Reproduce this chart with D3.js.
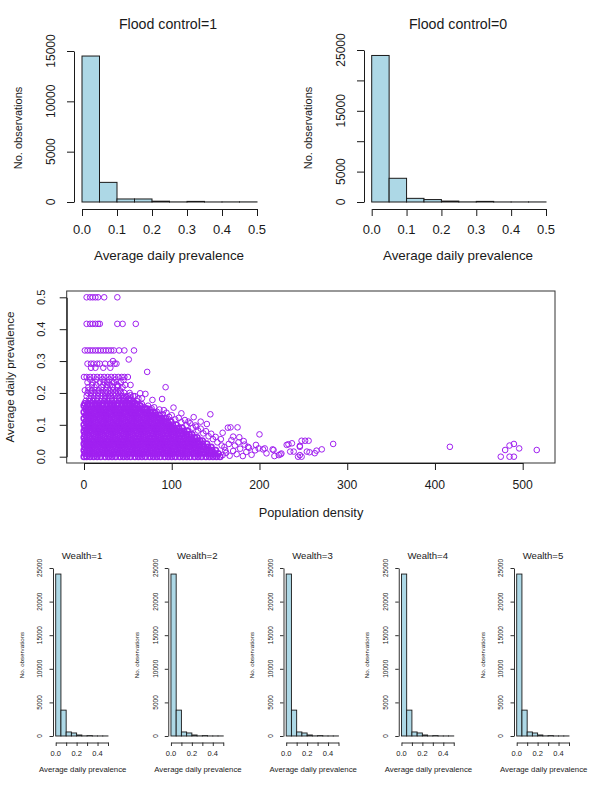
<!DOCTYPE html>
<html><head><meta charset="utf-8">
<script src="https://cdn.jsdelivr.net/npm/d3@7"></script>
<style>
body{margin:0;background:#fff}
svg{display:block}
text{font-family:"Liberation Sans",Arial,Helvetica,sans-serif;fill:#1a1a1a}
</style>
</head><body>
<svg id="c" width="600" height="787"></svg>
<script>
// ---------------- DATA ----------------
const binEdges = [0,0.05,0.1,0.15,0.2,0.25,0.3,0.35,0.4,0.45,0.5];
const prevTicks = [0,0.1,0.2,0.3,0.4,0.5];
const prevTickLabels = ["0.0","0.1","0.2","0.3","0.4","0.5"];
const prevTickLabelsSmall = ["0.0","","0.2","","0.4",""];

const floodTitles = ["Flood control=1","Flood control=0"];
const floodCounts1 = [14500,1950,300,300,80,10,60,5,10,10];
const floodCounts0 = [24100,3900,600,400,150,20,100,10,10,10];
const floodYTicks1 = [0,5000,10000,15000];
const floodYLabels1 = ["0","5000","10000","15000"];
const floodYTicks0 = [0,5000,10000,15000,20000,25000];
const floodYLabels0 = ["0","5000","","15000","","25000"];

const wealthTitles = ["Wealth=1","Wealth=2","Wealth=3","Wealth=4","Wealth=5"];
const wealthCounts = [
  [24100,3850,600,450,150,20,60,10,10,10],
  [24100,3850,600,450,150,20,60,10,10,10],
  [24100,3850,600,450,150,20,60,10,10,10],
  [24100,3850,600,450,150,20,60,10,10,10],
  [24100,3850,600,450,150,20,60,10,10,10]
];
const wealthYTicks = [0,5000,10000,15000,20000,25000];
const wealthYLabels = ["0","5000","10000","15000","20000","25000"];

const densityTicks = [0,100,200,300,400,500];
const xLabelHist = "Average daily prevalence";
const yLabelHist = "No. observations";
const xLabelScatter = "Population density";
const yLabelScatter = "Average daily prevalence";

// scatter: rows of [prevalence, population densities]
const denseRows = [
  [0.000,[0,3,7,11,15,19,24,28,32,36,41,45,49,53,58,62,66,70,75,79,83,87,92,96,100,104,109,113,117,121,126,130,134,139,143,147,151,155]],
  [0.010,[1,5,9,13,17,22,26,30,34,39,43,47,51,56,60,64,68,73,77,81,85,90,94,98,102,107,111,115,119,124,128,132,137,141,145,149,153]],
  [0.020,[0,3,7,11,15,20,24,28,32,37,41,45,49,54,58,62,66,71,75,79,83,88,92,96,100,105,109,113,117,122,126,130,134,139,143,146,150]],
  [0.030,[1,5,9,13,18,22,26,30,35,39,43,47,52,56,60,64,69,73,77,81,86,90,94,98,103,107,111,115,120,124,128,132,137,141,145]],
  [0.040,[0,3,7,11,16,20,24,28,33,37,41,45,50,54,58,62,67,71,75,79,84,88,92,96,101,105,109,113,118,122,126,131,135,140]],
  [0.050,[1,5,9,14,18,22,26,31,35,39,43,48,52,56,60,65,69,73,77,82,86,90,94,99,103,107,111,116,120,124,129,132,135]],
  [0.060,[0,3,7,12,16,20,24,29,33,37,41,46,50,54,58,63,67,71,75,80,84,88,92,97,101,105,109,114,118,122,126,129]],
  [0.070,[1,5,10,14,18,22,27,31,35,39,44,48,52,56,61,65,69,73,78,82,86,90,95,99,103,107,112,116,120,123]],
  [0.080,[0,3,8,12,16,20,25,29,33,37,42,46,50,54,59,63,67,71,76,80,84,88,93,97,101,105,110,114,118]],
  [0.090,[1,6,10,14,18,23,27,31,35,40,44,48,52,57,61,65,69,74,78,82,86,91,95,99,103,108,112]],
  [0.100,[0,4,8,12,16,21,25,29,33,38,42,46,50,55,59,63,67,72,76,80,84,89,93,97,101,105]],
  [0.110,[2,6,10,14,19,23,27,31,36,40,44,48,53,57,61,65,70,74,78,82,87,91,95,99]],
  [0.120,[0,4,8,12,17,21,25,29,34,38,42,46,51,55,59,63,68,72,76,80,85,89,93]],
  [0.130,[2,6,10,15,19,23,27,32,36,40,44,49,53,57,61,66,70,74,78,82,86]],
  [0.140,[0,4,8,13,17,21,25,30,34,38,42,47,51,55,59,64,68,72,76,79]],
  [0.150,[2,6,11,15,19,23,28,32,36,40,45,49,53,57,62,66,70,72]],
  [0.160,[0,4,9,13,17,21,26,30,34,38,43,47,51,55,60,64]],
  [0.1667,[1,5,9,13,17,22,26,30,34,39,43,47,51,55,58]],
  [0.175,[2,7,10,15,19,23,27,32,36,40,44,48,52,56,60]],
  [0.182,[6,11,15,20,24,28,32,36,40,44,47,51,54,62]],
  [0.190,[3,8,12,16,20,24,28,31,35,39,43,46,50,56]],
  [0.200,[4,8,12,16,20,24,27,31,35,39,42,46,52]],
  [0.2083,[1,5,9,13,17,21,25,29,33,37,41]],
  [0.218,[5,12,20,26,33,38,44]],
  [0.225,[9,14,22,26,30,38,47,53]],
  [0.233,[4,10,18,23,27,34,42]],
  [0.242,[7,14,21,29,36]],
  [0.250,[0,3,7,11,15,19,23,27,31,35,39,43,46,50]],
  [0.279,[8,13,22,30]],
  [0.2917,[4,8,11,15,18,24,30,35,37]],
  [0.3333,[1,4,7,10,13,16,19,22,25,28,31,34,40,46,57]],
  [0.4167,[3,7,10,13,16,18,38,44,59]],
  [0.500,[3,7,10,13,16,23,38]]
];
// scatter: individual points [population density, prevalence]
const scatterExtra = [
  [33,0.300],[51,0.305],[72,0.266],[93,0.218],[32,0.235],[39,0.222],[45,0.240],
  [48,0.188],[53,0.193],[58,0.190],[64,0.199],[70,0.197],[56,0.172],[66,0.183],
  [78,0.178],[89,0.181],[77,0.152],[81,0.138],[91,0.146],[102,0.154],[111,0.136],
  [125,0.124],[119,0.110],[133,0.110],[144,0.133],[140,0.1025],[128,0.094],
  [164,0.091],[167,0.092],[175,0.092],[158,0.075],[170,0.063],[177,0.061],
  [182,0.049],[200,0.070],[187,0.031],[196,0.037],[199,0.026],[206,0.026],
  [208,0.0105],[215,0.023],[217,0.002],[222,0.005],[225,0.010],[231,0.037],
  [237,0.042],[239,0.016],[246,0.034],[244,0.000],[204,0.023],[216,0.021],
  [224,0.0075],[233,0.039],[235,0.016],[246,0.031],[246,0.005],
  [248,0.050],[252,0.050],[256,0.050],[254,0.016],[257,0.014],[263,0.011],
  [265,0.019],[271,0.023],[284,0.040],[248,0.000],[417,0.031],
  [475,0.000],[480,0.021],[485,0.035],[490,0.040],[496,0.026],[485,0.000],
  [490,0.000],[516,0.021],
  [158,0.005],[162,0.012],[166,0.003],[170,0.018],[174,0.008],[178,0.025],
  [181,0.002],[185,0.015],[188,0.028],[191,0.006],[195,0.020],[160,0.030],
  [165,0.040],[172,0.035],[168,0.052],[176,0.045],[183,0.038],[156,0.055],
  [150,0.062],[145,0.072],[139,0.080],[133,0.088],[127,0.098],[121,0.105],
  [115,0.115],[108,0.122],[100,0.130],[94,0.138],[86,0.148],[80,0.155],
  [73,0.160],[66,0.165],[152,0.045],[147,0.055],[142,0.064],[136,0.073],
  [130,0.082],[124,0.091],[117,0.099],[111,0.108],[104,0.117],[97,0.125],
  [90,0.133],[83,0.141],[76,0.147],[69,0.155],[62,0.165],[161,0.020],[157,0.035]
];

// ---------------- DRAW ----------------
const svg = d3.select("#c");
const INK = "#1a1a1a";

function vtext(g, x, y, str, size) {
  g.append("text").attr("transform", `translate(${x},${y}) rotate(-90)`)
    .attr("text-anchor", "middle").attr("dy", "0.35em")
    .style("font-size", size + "px").text(str);
}
function htext(g, x, y, str, size) {
  g.append("text").attr("x", x).attr("y", y).attr("text-anchor", "middle")
    .attr("dy", "0.35em").style("font-size", size + "px").text(str);
}

function hist(o) {
  const x = d3.scaleLinear().domain([0, 0.5]).range([o.x0, o.x5]);
  const y = d3.scaleLinear().domain([0, o.yMax]).range([o.y0, o.yTop]);
  const g = svg.append("g");
  g.selectAll("rect").data(o.counts).join("rect")
    .attr("x", (d, i) => x(binEdges[i]))
    .attr("width", (d, i) => x(binEdges[i + 1]) - x(binEdges[i]))
    .attr("y", d => y(d)).attr("height", d => y(0) - y(d))
    .attr("fill", "#ADD8E6").attr("stroke", INK).attr("stroke-width", o.sw);
  const ax = g.append("g").attr("transform", `translate(0,${o.xAxisY})`)
    .call(d3.axisBottom(x).tickValues(prevTicks).tickFormat("").tickSize(o.tick).tickSizeOuter(0));
  const ay = g.append("g").attr("transform", `translate(${o.axisX},0)`)
    .call(d3.axisLeft(y).tickValues(o.yTicks).tickFormat("").tickSize(o.tick).tickSizeOuter(0));
  [ax, ay].forEach(a => a.attr("color", INK).selectAll("path,line").attr("stroke-width", o.sw));
  prevTicks.forEach((t, i) => { if (o.xLabels[i]) htext(g, x(t), o.xTickY, o.xLabels[i], o.fxt); });
  o.yTicks.forEach((t, i) => { if (o.yLabels[i]) vtext(g, o.yTickX, y(t), o.yLabels[i], o.fyt); });
  htext(g, o.xlabX, o.xlabY, xLabelHist, o.fxl);
  vtext(g, o.ylabX, o.ylabY, yLabelHist, o.fyl);
  htext(g, o.titleX, o.titleY, o.title, o.ft);
}

// top histograms
hist({title: floodTitles[0], counts: floodCounts1, yMax: 15000, yTicks: floodYTicks1, yLabels: floodYLabels1,
  xLabels: prevTickLabels, axisX: 74, x0: 82, x5: 257, y0: 202, yTop: 51, xAxisY: 209, tick: 7, sw: 1,
  xTickY: 229, yTickX: 51, xlabX: 169, xlabY: 255, ylabX: 18, ylabY: 128, titleX: 168, titleY: 24,
  fxt: 13, fyt: 12, fxl: 13.4, fyl: 11, ft: 14.2});
hist({title: floodTitles[1], counts: floodCounts0, yMax: 25000, yTicks: floodYTicks0, yLabels: floodYLabels0,
  xLabels: prevTickLabels, axisX: 364, x0: 371.7, x5: 546, y0: 202, yTop: 50, xAxisY: 209, tick: 7, sw: 1,
  xTickY: 229, yTickX: 341, xlabX: 458, xlabY: 255, ylabX: 308.5, ylabY: 128, titleX: 458, titleY: 24,
  fxt: 13, fyt: 12, fxl: 13.4, fyl: 11, ft: 14.2});

// bottom small multiples
wealthTitles.forEach((t, i) => {
  const a = 53 + i * 115.25;
  hist({title: t, counts: wealthCounts[i], yMax: 25000, yTicks: wealthYTicks, yLabels: wealthYLabels,
    xLabels: prevTickLabelsSmall, axisX: a, x0: a + 2.7, x5: a + 55, y0: 736, yTop: 568, xAxisY: 742.5, tick: 3.5, sw: 0.9,
    xTickY: 753, yTickX: a - 13, xlabX: a + 29.7, xlabY: 769, ylabX: a - 31.5, ylabY: 655, titleX: a + 29, titleY: 556,
    fxt: 7.5, fyt: 6.5, fxl: 7.8, fyl: 6.2, ft: 9.6});
});

// scatter
(function () {
  const x = d3.scaleLinear().domain([0, 500]).range([84, 522.7]);
  const y = d3.scaleLinear().domain([0, 0.5]).range([456.7, 297.3]);
  const g = svg.append("g");
  const pts = [];
  denseRows.forEach(([p, xs]) => xs.forEach(d => pts.push({d, p, dense: p <= 0.17})));
  scatterExtra.forEach(([d, p]) => pts.push({d, p, dense: false}));
  g.selectAll("circle").data(pts).join("circle")
    .attr("cx", o => x(o.d)).attr("cy", o => y(o.p)).attr("r", 2.8)
    .attr("fill", "none").attr("stroke", "#A020F0")
    .attr("stroke-width", o => o.dense ? 1.6 : 1.0);
  g.append("rect").attr("x", 66.7).attr("y", 291).attr("width", 555 - 66.7).attr("height", 463 - 291)
    .attr("fill", "none").attr("stroke", "#333").attr("stroke-width", 1);
  const ax = g.append("g").attr("transform", "translate(0,463)")
    .call(d3.axisBottom(x).tickValues(densityTicks).tickFormat("").tickSize(7).tickSizeOuter(0));
  const ay = g.append("g").attr("transform", "translate(66.7,0)")
    .call(d3.axisLeft(y).tickValues(prevTicks).tickFormat("").tickSize(7).tickSizeOuter(0));
  [ax, ay].forEach(a => a.attr("color", INK));
  densityTicks.forEach(t => htext(g, x(t), 485, String(t), 12.2));
  prevTicks.forEach((t, i) => vtext(g, 41, y(t), prevTickLabels[i], 11));
  htext(g, 311, 513, xLabelScatter, 12.8);
  vtext(g, 10, 377, yLabelScatter, 11.7);
})();
</script>
</body></html>
